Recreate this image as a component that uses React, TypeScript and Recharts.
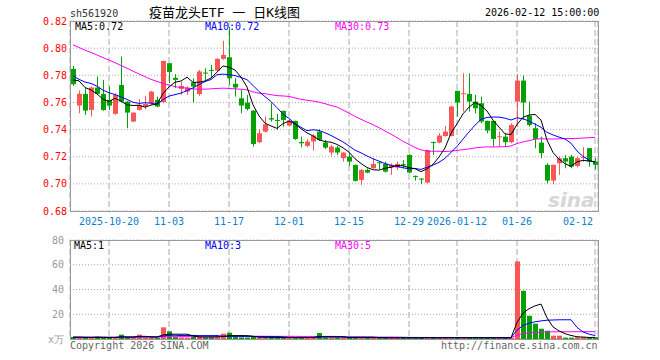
import React from 'react';
import {
  ComposedChart,
  Bar,
  Line,
  XAxis,
  YAxis,
  CartesianGrid,
  Cell
} from 'recharts';

// trading days shown on the chart
const dates = [
  '2025-10-10', '2025-10-13', '2025-10-14', '2025-10-15', '2025-10-16', '2025-10-17', '2025-10-20', '2025-10-21',
  '2025-10-22', '2025-10-23', '2025-10-24', '2025-10-27', '2025-10-28', '2025-10-29', '2025-10-30', '2025-10-31',
  '2025-11-03', '2025-11-04', '2025-11-05', '2025-11-06', '2025-11-07', '2025-11-10', '2025-11-11', '2025-11-12',
  '2025-11-13', '2025-11-14', '2025-11-17', '2025-11-18', '2025-11-19', '2025-11-20', '2025-11-21', '2025-11-24',
  '2025-11-25', '2025-11-26', '2025-11-27', '2025-11-28', '2025-12-01', '2025-12-02', '2025-12-03', '2025-12-04',
  '2025-12-05', '2025-12-08', '2025-12-09', '2025-12-10', '2025-12-11', '2025-12-12', '2025-12-15', '2025-12-16',
  '2025-12-17', '2025-12-18', '2025-12-19', '2025-12-22', '2025-12-23', '2025-12-24', '2025-12-25', '2025-12-26',
  '2025-12-29', '2025-12-30', '2025-12-31', '2026-01-05', '2026-01-06', '2026-01-07', '2026-01-08', '2026-01-09',
  '2026-01-12', '2026-01-13', '2026-01-14', '2026-01-15', '2026-01-16', '2026-01-19', '2026-01-20', '2026-01-21',
  '2026-01-22', '2026-01-23', '2026-01-26', '2026-01-27', '2026-01-28', '2026-01-29', '2026-01-30', '2026-02-02',
  '2026-02-03', '2026-02-04', '2026-02-05', '2026-02-06', '2026-02-09', '2026-02-10', '2026-02-11', '2026-02-12'
];

const tickDates = ['2025-10-20', '2025-11-03', '2025-11-17', '2025-12-01', '2025-12-15', '2025-12-29', '2026-01-12', '2026-01-26', '2026-02-12'];
const tickLabels = ['2025-10-20', '11-03', '11-17', '12-01', '12-15', '12-29', '2026-01-12', '01-26', '02-12'];

const openP = [
  0.7847, 0.7577, 0.7663, 0.7545, 0.7710, 0.7663, 0.7619, 0.7516, 0.7729, 0.7606,
  0.7459, 0.7545, 0.7570, 0.7594, 0.7619, 0.7602, 0.7889, 0.7781, 0.7700, 0.7680,
  0.7747, 0.7661, 0.7820, 0.7840, 0.7835, 0.7921, 0.7933, 0.7737, 0.7631, 0.7599,
  0.7540, 0.7307, 0.7385, 0.7484, 0.7471, 0.7538, 0.7430, 0.7464, 0.7309, 0.7280,
  0.7312, 0.7385, 0.7304, 0.7231, 0.7267, 0.7189, 0.7201, 0.7140, 0.7029, 0.7103,
  0.7115, 0.7159, 0.7147, 0.7120, 0.7120, 0.7145, 0.7213, 0.7059, 0.7039, 0.7009,
  0.7309, 0.7304, 0.7353, 0.7353, 0.7685, 0.7661, 0.7663, 0.7606, 0.7594, 0.7464,
  0.7464, 0.7346, 0.7348, 0.7307, 0.7606, 0.7761, 0.7501, 0.7410, 0.7304, 0.7140,
  0.7024, 0.7152, 0.7189, 0.7201, 0.7132, 0.7191, 0.7263, 0.7164
];
const highP = [
  0.7869, 0.7688, 0.7705, 0.7717, 0.7791, 0.7766, 0.7717, 0.7668, 0.7938, 0.7610,
  0.7528, 0.7624, 0.7648, 0.7685, 0.7643, 0.7908, 0.7891, 0.7808, 0.7754, 0.7717,
  0.7778, 0.7840, 0.7852, 0.7877, 0.7926, 0.8054, 0.8155, 0.7778, 0.7692, 0.7656,
  0.7542, 0.7403, 0.7496, 0.7594, 0.7516, 0.7540, 0.7476, 0.7466, 0.7348, 0.7329,
  0.7368, 0.7403, 0.7324, 0.7287, 0.7280, 0.7233, 0.7226, 0.7142, 0.7108, 0.7113,
  0.7189, 0.7164, 0.7164, 0.7152, 0.7164, 0.7176, 0.7218, 0.7061, 0.7041, 0.7252,
  0.7311, 0.7373, 0.7427, 0.7575, 0.7687, 0.7815, 0.7815, 0.7656, 0.7643, 0.7466,
  0.7466, 0.7385, 0.7373, 0.7447, 0.7810, 0.7798, 0.7606, 0.7447, 0.7348, 0.7152,
  0.7142, 0.7201, 0.7213, 0.7213, 0.7201, 0.7270, 0.7265, 0.7189
];
const lowP = [
  0.7722, 0.7520, 0.7508, 0.7496, 0.7656, 0.7538, 0.7545, 0.7508, 0.7602, 0.7410,
  0.7455, 0.7540, 0.7550, 0.7582, 0.7565, 0.7594, 0.7742, 0.7705, 0.7656, 0.7656,
  0.7599, 0.7648, 0.7754, 0.7778, 0.7828, 0.7914, 0.7729, 0.7643, 0.7520, 0.7540,
  0.7275, 0.7299, 0.7378, 0.7459, 0.7398, 0.7422, 0.7422, 0.7324, 0.7270, 0.7270,
  0.7245, 0.7317, 0.7258, 0.7208, 0.7213, 0.7164, 0.7132, 0.7017, 0.6992, 0.7078,
  0.7113, 0.7108, 0.7083, 0.7066, 0.7103, 0.7115, 0.7078, 0.7024, 0.6997, 0.7004,
  0.7213, 0.7299, 0.7348, 0.7350, 0.7496, 0.7533, 0.7533, 0.7520, 0.7447, 0.7373,
  0.7275, 0.7275, 0.7275, 0.7299, 0.7422, 0.7471, 0.7422, 0.7262, 0.7189, 0.7004,
  0.6997, 0.7066, 0.7115, 0.7115, 0.7122, 0.7164, 0.7127, 0.7108
];
const closeP = [
  0.7734, 0.7663, 0.7540, 0.7710, 0.7663, 0.7545, 0.7577, 0.7656, 0.7606, 0.7525,
  0.7525, 0.7582, 0.7589, 0.7680, 0.7570, 0.7906, 0.7825, 0.7766, 0.7722, 0.7710,
  0.7717, 0.7828, 0.7813, 0.7833, 0.7921, 0.7950, 0.7778, 0.7710, 0.7577, 0.7552,
  0.7294, 0.7373, 0.7439, 0.7474, 0.7464, 0.7471, 0.7466, 0.7331, 0.7299, 0.7312,
  0.7356, 0.7324, 0.7267, 0.7275, 0.7231, 0.7231, 0.7164, 0.7022, 0.7103, 0.7083,
  0.7147, 0.7152, 0.7090, 0.7140, 0.7147, 0.7137, 0.7083, 0.7051, 0.7032, 0.7250,
  0.7302, 0.7356, 0.7385, 0.7570, 0.7599, 0.7668, 0.7606, 0.7557, 0.7459, 0.7393,
  0.7331, 0.7351, 0.7307, 0.7434, 0.7761, 0.7599, 0.7434, 0.7331, 0.7226, 0.7024,
  0.7140, 0.7189, 0.7164, 0.7127, 0.7189, 0.7199, 0.7164, 0.7140
];
// volume, 万
const volume = [
  1.6, 1.2, 1.0, 1.3, 1.9, 1.2, 1.0, 1.1, 3.5, 1.4,
  1.1, 3.5, 1.2, 1.4, 1.0, 9.4, 6.2, 1.5, 1.2, 1.1,
  2.7, 1.6, 1.2, 1.3, 1.5, 4.3, 5.1, 1.6, 1.3, 1.2,
  1.8, 1.2, 1.1, 1.3, 1.0, 1.2, 1.1, 1.4, 1.0, 1.1,
  1.3, 4.8, 1.2, 1.0, 1.1, 1.2, 1.0, 1.5, 1.2, 0.9,
  1.0, 0.9, 1.1, 1.0, 0.9, 1.0, 1.4, 0.8, 0.9, 1.3,
  0.9, 1.0, 0.9, 1.1, 1.3, 1.0, 1.1, 0.9, 1.0, 0.9,
  1.1, 0.9, 1.0, 1.0, 62.7, 39.0, 18.8, 12.4, 8.3, 6.7,
  2.7, 2.7, 1.1, 1.1, 1.5, 1.5, 0.9, 1.5
];

// moving averages at the left edge depend on days before the window
const ma5Head = [0.7766, 0.7759, 0.7710, 0.7692];
const ma10Head = [0.7796, 0.7770, 0.7750, 0.7740, 0.7720, 0.7690, 0.7672, 0.7658, 0.7640];
const ma30Head = [
  0.8024, 0.8005, 0.7985, 0.7968, 0.7950, 0.7930, 0.7912, 0.7893, 0.7872, 0.7852,
  0.7830, 0.7810, 0.7790, 0.7770, 0.7755, 0.7740, 0.7728, 0.7716, 0.7710, 0.7705,
  0.7700, 0.7697, 0.7698, 0.7700, 0.7703, 0.7705, 0.7703, 0.7700, 0.7697
];
const vma5Head = [1.4, 1.4, 1.3, 1.3];
const vma10Head = [1.5, 1.5, 1.4, 1.4, 1.4, 1.4, 1.3, 1.3, 1.5];
const vma30Head = [
  1.5, 1.5, 1.5, 1.4, 1.4, 1.4, 1.4, 1.4, 1.5, 1.5,
  1.5, 1.6, 1.6, 1.6, 1.6, 1.8, 1.9, 1.9, 1.9, 1.9,
  1.9, 2.0, 2.0, 2.0, 2.0, 2.1, 2.1, 2.1, 2.1
];

const movingAvg = (values: number[], n: number, head: number[]) =>
  values.map((_, i) => {
    if (i < n - 1) return head[i];
    let s = 0;
    for (let k = 0; k < n; k++) s += values[i - k];
    return s / n;
  });

const ma5 = movingAvg(closeP, 5, ma5Head);
const ma10 = movingAvg(closeP, 10, ma10Head);
const ma30 = movingAvg(closeP, 30, ma30Head);
const vma5 = movingAvg(volume, 5, vma5Head);
const vma10 = movingAvg(volume, 10, vma10Head);
const vma30 = movingAvg(volume, 30, vma30Head);

const data = dates.map((date, i) => ({
  date,
  open: openP[i],
  high: highP[i],
  low: lowP[i],
  close: closeP[i],
  ma5: ma5[i],
  ma10: ma10[i],
  ma30: ma30[i],
  vol: volume[i],
  vma5: vma5[i],
  vma10: vma10[i],
  vma30: vma30[i]
}));

const RED = '#fa5656';
const GREEN = '#04a004';
const MONO = "'DejaVu Sans Mono', monospace";

const Candle = (props: any) => {
  const { x, y, width, height, payload } = props;
  const { open, close, high, low } = payload;
  const top = Math.min(y, y + height);
  const h = Math.abs(height);
  const k = high === low ? 0 : h / (high - low);
  const py = (v: number) => top + (high - v) * k;
  const color = close >= open ? RED : GREEN;
  const cx = Math.floor(x + width / 2);
  const bTop = py(Math.max(open, close));
  const bBot = py(Math.min(open, close));
  return (
    <g>
      <line x1={cx + 0.5} x2={cx + 0.5} y1={top} y2={top + h} stroke={color} strokeWidth={1} />
      <rect x={cx - 2} y={bTop} width={5} height={Math.max(1, bBot - bTop)} fill={color} />
    </g>
  );
};

const DateTick = (props: any) => {
  const { x, y, payload } = props;
  const idx = tickDates.indexOf(payload.value);
  const last = idx === tickDates.length - 1;
  return (
    <text
      x={last ? x - 2 : x}
      y={y}
      dy="0.71em"
      textAnchor={last ? 'end' : 'middle'}
      fill="#0d7fcf"
      fontSize={10}
      fontFamily={MONO}
    >
      {tickLabels[idx]}
    </text>
  );
};

const txt = (left: number, top: number, color: string, extra: React.CSSProperties = {}): React.CSSProperties => ({
  position: 'absolute',
  left,
  top,
  color,
  fontFamily: MONO,
  fontSize: 10,
  lineHeight: '12px',
  whiteSpace: 'nowrap',
  ...extra
});

const frame = (top: number, height: number): React.CSSProperties => ({
  position: 'absolute',
  left: 70,
  top,
  width: 529,
  height,
  boxSizing: 'border-box',
  border: '1px solid #999',
  pointerEvents: 'none'
});

const App: React.FC = () => {
  return (
    <div style={{ position: 'absolute', left: 0, top: 0, width: 660, height: 360, background: '#fff', overflow: 'hidden' }}>
      <div style={{ position: 'absolute', left: 0, top: 0 }}>
        <ComposedChart width={660} height={231} data={data} margin={{ top: 21, right: 62, bottom: 0, left: 0 }}>
          <CartesianGrid vertical={false} stroke="#aaa" strokeDasharray="1 2" />
          <CartesianGrid horizontal={false} stroke="#aaa" strokeDasharray="6 3" />
          <XAxis
            dataKey="date"
            ticks={tickDates}
            interval={0}
            height={20}
            tickLine={false}
            axisLine={false}
            tickSize={0}
            tickMargin={7}
            tick={<DateTick />}
          />
          <YAxis
            width={70}
            domain={[0.68, 0.82]}
            ticks={[0.68, 0.7, 0.72, 0.74, 0.76, 0.78, 0.8, 0.82]}
            allowDataOverflow
            tickLine={false}
            axisLine={false}
            tickSize={0}
            tickMargin={3}
            tickFormatter={(v: number) => v.toFixed(2)}
            tick={{ fill: '#f00', fontSize: 10, fontFamily: MONO }}
          />
          <Bar dataKey={(d: any) => [d.low, d.high]} shape={<Candle />} isAnimationActive={false} />
          <Line type="linear" dataKey="ma30" stroke="#ff00ff" strokeWidth={1} dot={false} isAnimationActive={false} />
          <Line type="linear" dataKey="ma10" stroke="#0000ff" strokeWidth={1} dot={false} isAnimationActive={false} />
          <Line type="linear" dataKey="ma5" stroke="#000" strokeWidth={1} dot={false} isAnimationActive={false} />
        </ComposedChart>
      </div>
      <div style={{ position: 'absolute', left: 0, top: 230 }}>
        <ComposedChart width={660} height={122} data={data} margin={{ top: 10, right: 62, bottom: 13, left: 0 }}>
          <CartesianGrid vertical={false} stroke="#aaa" strokeDasharray="1 2" />
          <CartesianGrid horizontal={false} stroke="#aaa" strokeDasharray="6 3" />
          <XAxis dataKey="date" ticks={tickDates} interval={0} hide height={0} />
          <YAxis
            width={70}
            domain={[0, 80]}
            ticks={[0, 20, 40, 60, 80]}
            allowDataOverflow
            tickLine={false}
            axisLine={false}
            tickSize={0}
            tickMargin={6}
            tickFormatter={(v: number) => (v === 0 ? 'x万' : String(v))}
            tick={{ fill: '#999', fontSize: 10, fontFamily: MONO }}
          />
          <Bar dataKey="vol" barSize={5} isAnimationActive={false}>
            {data.map((d, i) => (
              <Cell key={i} fill={d.close >= d.open ? RED : GREEN} />
            ))}
          </Bar>
          <Line type="linear" dataKey="vma30" stroke="#ff00ff" strokeWidth={1} dot={false} isAnimationActive={false} />
          <Line type="linear" dataKey="vma10" stroke="#0000ff" strokeWidth={1} dot={false} isAnimationActive={false} />
          <Line type="linear" dataKey="vma5" stroke="#000" strokeWidth={1} dot={false} isAnimationActive={false} />
        </ComposedChart>
      </div>

      <div style={frame(21, 191)} />
      <div style={frame(240, 100)} />

      <span style={txt(70, 8, '#333')}>sh561920</span>
      <span style={txt(149, 5, '#000', { fontSize: 13, lineHeight: '15px', fontFamily: "'DejaVu Sans Mono', 'Noto Sans CJK SC', monospace" })}>
        疫苗龙头ETF 一 日K线图
      </span>
      <span style={txt(485, 7, '#000')}>2026-02-12 15:00:00</span>

      <span style={txt(75, 21, '#000')}>MA5:0.72</span>
      <span style={txt(205, 21, '#0000ff')}>MA10:0.72</span>
      <span style={txt(335, 21, '#ff00ff')}>MA30:0.73</span>

      <span style={txt(74, 240, '#000')}>MA5:1</span>
      <span style={txt(205, 240, '#0000ff')}>MA10:3</span>
      <span style={txt(335, 240, '#ff00ff')}>MA30:5</span>

      <span style={txt(548, 189, '#d6d6d6', { fontFamily: "'DejaVu Sans', sans-serif", fontSize: 20, fontStyle: 'italic', fontWeight: 700, lineHeight: '22px' })}>
        sina
      </span>

      <span style={txt(70, 340, '#666')}>Copyright 2026 SINA.COM</span>
      <span style={txt(441, 340, '#666')}>http://finance.sina.com.cn</span>
    </div>
  );
};

export default App;
